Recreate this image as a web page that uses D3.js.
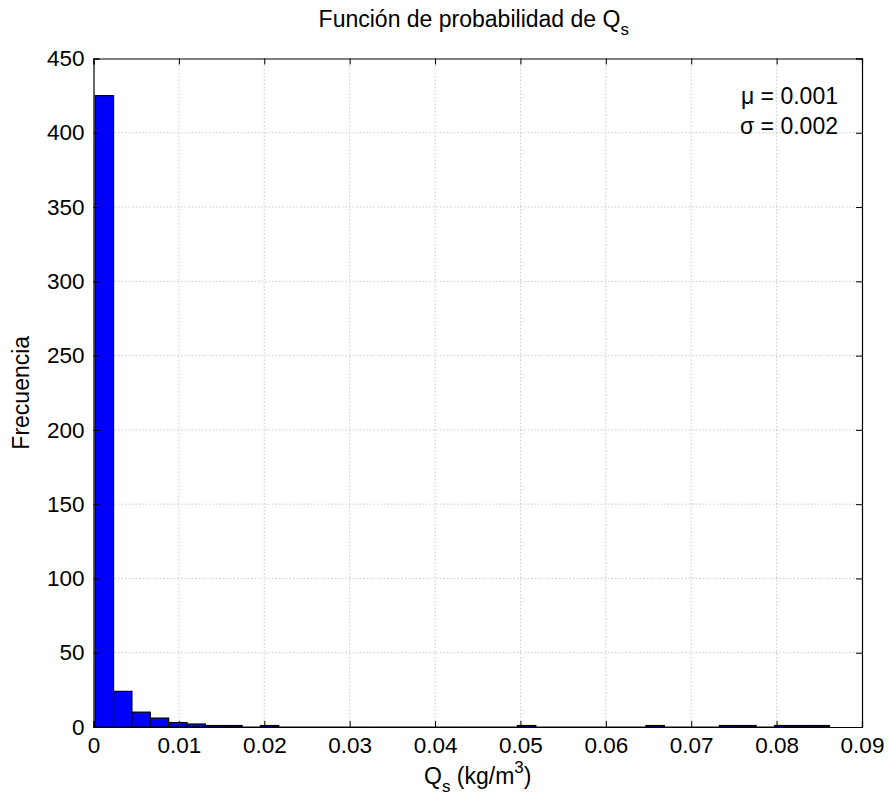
<!DOCTYPE html>
<html><head><meta charset="utf-8">
<script src="https://cdn.jsdelivr.net/npm/d3@7"></script>
<style>body{margin:0;background:#fff}svg{font-family:"Liberation Sans",Arial,sans-serif}</style>
</head><body>
<svg id="c" width="889" height="807"></svg>
<script>
// Histogram data (40 bins)
const binStart = 0.0002;
const binWidth = 0.00215;
const counts = [425,24,10,6,3,2,1,1,0,1, 0,0,0,0,0,0,0,0,0,0, 0,0,0,1,0,0,0,0,0,0, 1,0,0,0,1,1,0,1,1,1];
const xTicks = [0,0.01,0.02,0.03,0.04,0.05,0.06,0.07,0.08,0.09];
const xTickLabels = ["0","0.01","0.02","0.03","0.04","0.05","0.06","0.07","0.08","0.09"];
const yTicks = [0,50,100,150,200,250,300,350,400,450];
const stats = [["\u03bc","0.001"],["\u03c3","0.002"]];

const svg = d3.select("#c");
const L=93.5, R=862, T=58.5, B=727;
const x = d3.scaleLinear().domain([0,0.09]).range([L,R]);
const y = d3.scaleLinear().domain([0,450]).range([B,T]);
const fs = 22.5;

// grid
const g = svg.append("g");
g.selectAll(".gx").data(xTicks.slice(1,-1)).join("line")
  .attr("x1",d=>x(d)).attr("x2",d=>x(d)).attr("y1",T).attr("y2",B)
  .attr("stroke","#bdbdbd").attr("stroke-width",0.8).attr("stroke-dasharray","1.5,2");
g.selectAll(".gy").data(yTicks.slice(1,-1)).join("line")
  .attr("x1",L).attr("x2",R).attr("y1",d=>y(d)).attr("y2",d=>y(d))
  .attr("stroke","#bdbdbd").attr("stroke-width",0.8).attr("stroke-dasharray","1.5,2");

// bars
const bins = counts.map((c,i)=>({x0:binStart+i*binWidth,x1:binStart+(i+1)*binWidth,c}));
svg.append("g").selectAll("rect").data(bins.filter(b=>b.c>0)).join("rect")
  .attr("x",d=>x(d.x0)).attr("width",d=>x(d.x1)-x(d.x0))
  .attr("y",d=>y(d.c)).attr("height",d=>y(0)-y(d.c))
  .attr("fill","#0000ff").attr("stroke","#000").attr("stroke-width",1.2);
svg.append("g").selectAll("line").data(bins.filter(b=>b.c===0)).join("line")
  .attr("x1",d=>x(d.x0)).attr("x2",d=>x(d.x1)).attr("y1",y(0)).attr("y2",y(0))
  .attr("stroke","#000").attr("stroke-width",1);

// axes (ticks inward), box
const ax = svg.append("g");
ax.append("g").attr("transform",`translate(0,${B})`)
  .call(d3.axisBottom(x).tickValues(xTicks).tickSize(-6).tickPadding(10).tickFormat((d,i)=>xTickLabels[i]));
ax.append("g").attr("transform",`translate(0,${T})`)
  .call(d3.axisTop(x).tickValues(xTicks).tickSize(-6).tickFormat(""));
ax.append("g").attr("transform",`translate(${L},0)`)
  .call(d3.axisLeft(y).tickValues(yTicks).tickSize(-6).tickPadding(9).tickFormat(d3.format("d")));
ax.append("g").attr("transform",`translate(${R},0)`)
  .call(d3.axisRight(y).tickValues(yTicks).tickSize(-6).tickFormat(""));
ax.selectAll(".domain").attr("stroke","#000").attr("stroke-width",1.2);
ax.selectAll(".tick line").attr("stroke","#000").attr("stroke-width",1);
ax.selectAll(".tick text").attr("font-size",fs).attr("fill","#000").attr("font-family","Liberation Sans, Arial, sans-serif");

// title
const t = svg.append("text").attr("x",(L+R)/2 - 4).attr("y",27).attr("text-anchor","middle")
  .attr("font-size",23).attr("fill","#000");
t.append("tspan").text("Función de probabilidad de Q");
t.append("tspan").attr("font-size",17).attr("dy",8).text("s");

// x label
const xl = svg.append("text").attr("x",(L+R)/2).attr("y",784).attr("text-anchor","middle")
  .attr("font-size",23).attr("fill","#000");
xl.append("tspan").text("Q");
xl.append("tspan").attr("font-size",17).attr("dy",8).text("s");
xl.append("tspan").attr("dy",-8).text(" (kg/m");
xl.append("tspan").attr("font-size",17).attr("dy",-11).text("3");
xl.append("tspan").attr("dy",11).text(")");

// y label
svg.append("text").attr("transform",`translate(29,${(T+B)/2}) rotate(-90)`)
  .attr("text-anchor","middle").attr("font-size",23).attr("fill","#000").text("Frecuencia");

// stats
svg.append("g").selectAll("text").data(stats).join("text")
  .attr("x",838).attr("y",(d,i)=>104+i*30).attr("text-anchor","end")
  .attr("font-size",23).attr("fill","#000").text(d=>`${d[0]} = ${d[1]}`);
</script>
</body></html>
